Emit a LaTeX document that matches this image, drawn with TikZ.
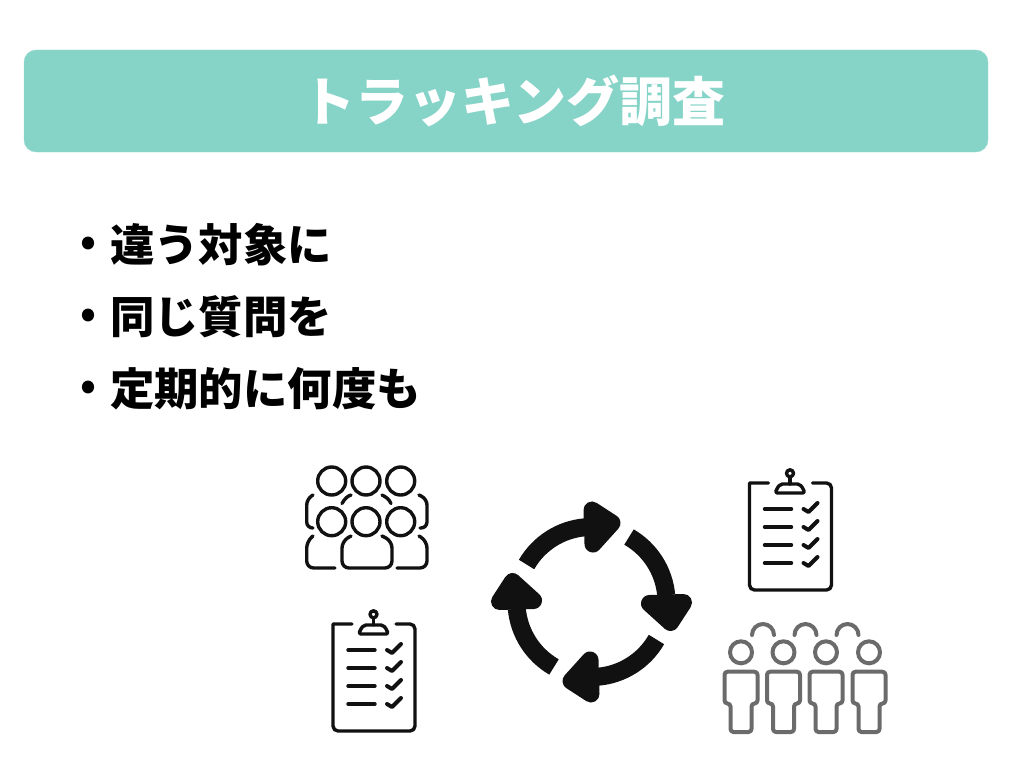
\documentclass[tikz,border=0pt]{standalone}
\usepackage{fontspec}
\newfontfamily\jpfont{Noto Sans CJK JP}
\usepackage{tikz}
\usetikzlibrary{positioning}

\definecolor{titleteal}{HTML}{86D3C8}
\definecolor{iconblack}{HTML}{111111}
\definecolor{icongray}{HTML}{6B6B6B}

\newcommand{\clipboard}[2]{
    \begin{scope}[shift={(#1,#2)}, icon]
        \draw (19,0) -- (0,0) [rounded corners=5pt] -- (0,107) -- (82,107) -- (82,0) [sharp corners] -- (63,0);
        \draw[rounded corners=2pt] (26,10) -- (27,6) -- (31,1) -- (50,1) -- (54,6) -- (55,10) -- cycle;
        \draw (40.5,1) -- (40.5,-6);
        \draw (40.5,-9.7) circle (3.5);
        \foreach \ly in {26,44,62,80} {
            \draw (15,\ly) -- (42,\ly);
            \draw[line width=4pt] (54,\ly) -- (59,\ly+3) -- (68,\ly-6);
        }
    \end{scope}
}

\begin{document}
\begin{tikzpicture}[x=1pt, y=-1pt, >=stealth, node distance=72pt, line cap=round, line join=round]
    \tikzstyle{banner} = [fill=titleteal, draw=titleteal!80!white, rounded corners=12pt]
    \tikzstyle{title} = [text=white, inner sep=0pt, font=\jpfont\bfseries\fontsize{53pt}{53pt}\selectfont]
    \tikzstyle{item} = [inner sep=0pt, text width=330pt, align=left, font=\jpfont\bfseries\fontsize{44.4pt}{44.4pt}\selectfont]
    \tikzstyle{dot} = [inner sep=0pt, yshift=-1.5pt, font=\jpfont\bfseries\fontsize{40pt}{40pt}\selectfont]
    \tikzstyle{icon} = [iconblack, line width=3.4pt]
    \tikzstyle{person} = [icongray, line width=4pt]

    \useasboundingbox (0,0) rectangle (1024,768);

    \draw[banner] (24,50) rectangle (988,152);
    \node[title] (heading) at (514,101) {トラッキング調査};

    \path
        node[item] (target) at (275,245) {違う対象に}
        node[item, below of=target] (question) {同じ質問を}
        node[item, below of=question] (repeat) {定期的に何度も}
        node[dot, left=13pt of target.west] (dota) {•}
        node[dot, left=13pt of question.west] (dotb) {•}
        node[dot, left=13pt of repeat.west] (dotc) {•};

    % crowd
    \begin{scope}[icon]
        \foreach \cx in {331.7,366,400.7} {
            \draw (\cx,481) circle (14);
            \draw (\cx,521.7) circle (14);
        }
        \draw[rounded corners=6pt] (313,495) -- (306.7,499) -- (306.7,528) -- (313,528);
        \draw[rounded corners=6pt] (419,495) -- (427,499) -- (427,528) -- (420,528);
        \draw (342,503.5) .. controls (345,498) and (348,496) .. (351,495);
        \draw (382,495) .. controls (386,497) and (389,499) .. (391,503.5);
        \draw[rounded corners=7pt] (313,536) -- (306.7,541) -- (306.7,568) -- (335,568);
        \draw[rounded corners=7pt] (351,536) -- (342,541) -- (342,568) -- (392,568) -- (392,541) -- (382,536);
        \draw[rounded corners=7pt] (419,536) -- (427,541) -- (427,568) -- (397,568);
    \end{scope}

    % clipboards
    \clipboard{333}{624}
    \clipboard{749.5}{483}

    % cycle
    \foreach \turn in {0,-90,-180,-270} {
        \begin{scope}[rotate around={\turn:(591.5,602)}]
            \draw[iconblack, line width=18pt, line cap=butt] (591.5,602) ++(210:75) arc (210:265:75);
            \draw[iconblack, fill=iconblack, line width=17pt] (592,510) -- (612,523) -- (593,544) -- cycle;
        \end{scope}
    }

    % group
    \foreach \px in {741,783.5,826,869} {
        \draw[person] (\px,652.3) circle (11);
        \draw[person, rounded corners=3pt] (\px-6,671.7) -- (\px-16.5,671.7) -- (\px-16.5,703.5) -- (\px-10.5,703.5)
            -- (\px-10.5,732) -- (\px+10.5,732) -- (\px+10.5,703.5) -- (\px+16.5,703.5) -- (\px+16.5,671.7) -- cycle;
    }
    \foreach \px in {763,805.5,847.5} {
        \draw[person] (\px-11,635) arc (180:360:11);
    }
\end{tikzpicture}
\end{document}
